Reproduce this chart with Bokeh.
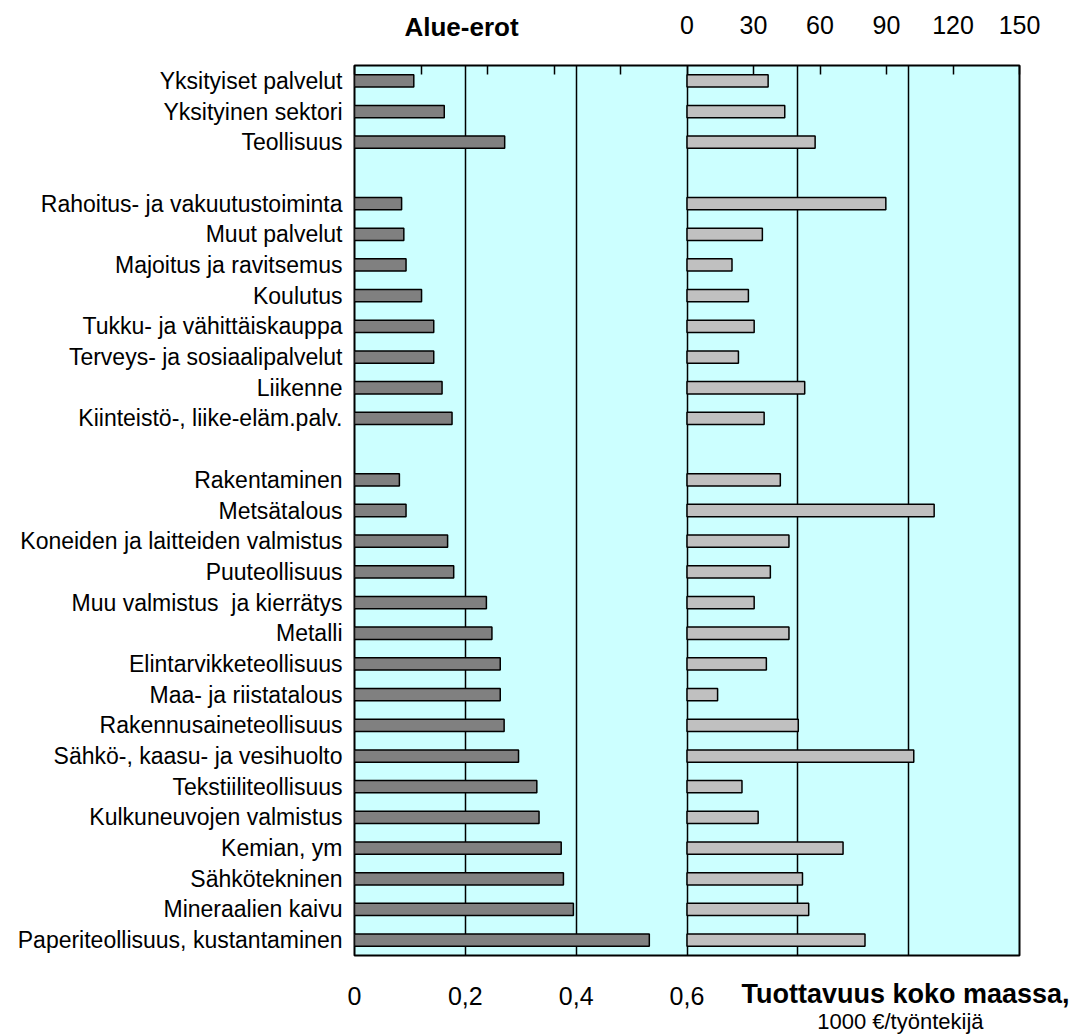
from bokeh.plotting import figure
from bokeh.models import FactorRange, Range1d, LinearAxis, FixedTicker, ColumnDataSource
from bokeh.embed import file_html
from bokeh.resources import INLINE

# ---- data ----
categories = [
    "Yksityiset palvelut", "Yksityinen sektori", "Teollisuus",
    "Rahoitus- ja vakuutustoiminta", "Muut palvelut", "Majoitus ja ravitsemus",
    "Koulutus", "Tukku- ja vähittäiskauppa", "Terveys- ja sosiaalipalvelut",
    "Liikenne", "Kiinteistö-, liike-eläm.palv.",
    "Rakentaminen", "Metsätalous", "Koneiden ja laitteiden valmistus",
    "Puuteollisuus", "Muu valmistus\u00a0 ja kierrätys", "Metalli",
    "Elintarvikketeollisuus", "Maa- ja riistatalous", "Rakennusaineteollisuus",
    "Sähkö-, kaasu- ja vesihuolto", "Tekstiiliteollisuus", "Kulkuneuvojen valmistus",
    "Kemian, ym", "Sähkötekninen", "Mineraalien kaivu",
    "Paperiteollisuus, kustantaminen",
]
alue_erot = [0.107, 0.162, 0.271, 0.085, 0.089, 0.093, 0.121, 0.143, 0.143,
             0.158, 0.176, 0.081, 0.093, 0.168, 0.179, 0.238, 0.248, 0.263,
             0.263, 0.270, 0.296, 0.329, 0.333, 0.373, 0.377, 0.395, 0.532]
tuottavuus = [36.6, 44.1, 57.8, 89.7, 34.0, 20.3, 27.7, 30.3, 23.2, 53.1,
              34.8, 42.1, 111.5, 46.0, 37.6, 30.3, 46.0, 35.8, 13.8, 50.2,
              102.3, 24.8, 32.1, 70.4, 52.1, 54.9, 80.3]
bottom_ticks = [0, 0.2, 0.4, 0.6, 0.8, 1.0, 1.2]
bottom_tick_labels = ["0", "0,2", "0,4", "0,6", "", "", ""]
top_ticks = [-150, -120, -90, -60, -30, 0, 30, 60, 90, 120, 150]
top_tick_labels = ["", "", "", "", "", "0", "30", "60", "90", "120", "150"]
title_left = "Alue-erot"
title_right = "Tuottavuus koko maassa,"
unit_right = "1000 €/työntekijä"

# row layout with two empty separator rows
rows = categories[:3] + [" "] + categories[3:11] + ["  "] + categories[11:]
factors = rows[::-1]

src = ColumnDataSource(dict(cat=categories, left=alue_erot, right=tuottavuus))

FONT = "Liberation Sans"

p = figure(width=1075, height=1036,
           y_range=FactorRange(factors=factors, range_padding=0),
           x_range=Range1d(0, 1.2),
           output_backend="svg", toolbar_location=None,
           min_border_left=354, min_border_right=56,
           min_border_top=65, min_border_bottom=80)
p.extra_x_ranges = {"top": Range1d(-150, 150)}

p.background_fill_color = "#CCFFFF"
p.border_fill_color = "white"
p.outline_line_color = "black"
p.outline_line_width = 2

# bars
p.hbar(y="cat", left=0, right="left", height=0.4, source=src,
       fill_color="#808080", line_color="black", line_width=1.5)
p.hbar(y="cat", left=0, right="right", height=0.4, source=src,
       x_range_name="top",
       fill_color="#C0C0C0", line_color="black", line_width=1.5)

# bottom axis
bt = FixedTicker(ticks=bottom_ticks)
xa = p.xaxis[0]
xa.ticker = bt
xa.major_label_overrides = {t: l for t, l in zip(bottom_ticks, bottom_tick_labels)}
xa.axis_line_color = None
xa.major_tick_line_color = None
xa.minor_tick_line_color = None
xa.major_label_text_font = FONT
xa.major_label_text_font_size = "25px"
xa.major_label_text_color = "black"
xa.major_label_standoff = 25

p.xgrid.ticker = bt
p.xgrid.grid_line_color = "black"
p.xgrid.grid_line_width = 1.5
p.ygrid.grid_line_color = None


def text_axis(label, at, bold, standoff, font_px):
    """An axis that carries one text as its only tick label."""
    ax = LinearAxis(ticker=FixedTicker(ticks=[at]))
    ax.major_label_overrides = {at: label}
    ax.axis_line_color = None
    ax.major_tick_line_color = None
    ax.minor_tick_line_color = None
    ax.major_tick_in = 0
    ax.major_tick_out = 0
    ax.major_label_standoff = standoff
    ax.major_label_text_font = FONT
    ax.major_label_text_font_style = "bold" if bold else "normal"
    ax.major_label_text_font_size = font_px
    ax.major_label_text_color = "black"
    return ax


# texts below the chart
p.add_layout(text_axis(title_right, 0.9943, True, -29, "27px"), "below")
p.add_layout(text_axis(unit_right, 0.985, False, -3, "22px"), "below")

# top axis
ta = LinearAxis(x_range_name="top", ticker=FixedTicker(ticks=top_ticks))
ta.major_label_overrides = {t: l for t, l in zip(top_ticks, top_tick_labels)}
ta.axis_line_color = None
ta.major_tick_in = 9
ta.major_tick_out = 0
ta.major_tick_line_color = "black"
ta.major_tick_line_width = 1.5
ta.minor_tick_line_color = None
ta.major_label_text_font = FONT
ta.major_label_text_font_size = "25px"
ta.major_label_text_color = "black"
ta.major_label_standoff = 32
p.add_layout(ta, "above")
p.add_layout(text_axis(title_left, 0.1931, True, -29, "26px"), "above")

# left axis
ya = p.yaxis[0]
ya.axis_line_color = None
ya.major_tick_line_color = None
ya.minor_tick_line_color = None
ya.major_label_text_font = FONT
ya.major_label_text_font_size = "23px"
ya.major_label_text_color = "black"
ya.major_label_standoff = 6

open("out.html", "w").write(file_html(p, INLINE))
